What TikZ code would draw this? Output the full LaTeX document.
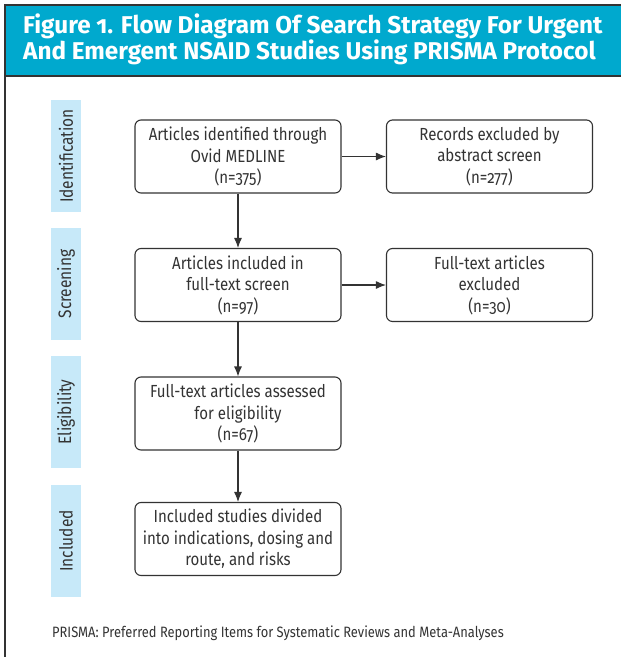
\documentclass[tikz,border=0pt]{standalone}
\usepackage{fontspec}
\setmainfont{Fira Sans}[Numbers=OldStyle,FakeStretch=0.86]
\newfontfamily\titlefont{Fira Sans}[Numbers=OldStyle]
\usetikzlibrary{arrows.meta}
\definecolor{bandblue}{RGB}{0,169,206}
\definecolor{stagefill}{RGB}{199,233,249}
\definecolor{inkgray}{RGB}{51,51,51}

\begin{document}
\begin{tikzpicture}[x=1pt,y=1pt,
        >={Latex[length=10pt,width=8pt]},
        flowbox/.style={draw=inkgray,line width=1.1pt,rounded corners=6pt,
            minimum width=206pt,minimum height=73pt,align=center,text=inkgray,
            font=\fontsize{17.5}{21.5}\selectfont},
        stage/.style={fill=stagefill,minimum width=112pt,minimum height=30pt,
            rotate=90,text=inkgray,font=\fontsize{18}{20}\selectfont},
        flow/.style={draw=inkgray,line width=1.1pt,->}]
        \useasboundingbox (0,0) rectangle (621,-657);
        % title band and frame
        \fill[bandblue] (5,-5) rectangle (621,-76);
        \draw[inkgray,line width=1.2pt] (621,-5) -- (5,-5) -- (5,-657);
        \draw[inkgray,line width=1.2pt] (5,-76) -- (621,-76);
        \node[anchor=west,align=left,inner sep=0pt,text=white,
            font=\titlefont\fontsize{24.3}{26}\selectfont\bfseries] (title) at (23,-39.5)
            {Figure 1. Flow Diagram Of Search Strategy For Urgent\\And Emergent NSAID Studies Using PRISMA Protocol};
        % stage bars
        \node[stage] (ident) at (66,-156) {Identification};
        \node[stage] (scr) at (66,-284) {Screening};
        \node[stage] (eli) at (66,-412) {Eligibility};
        \node[stage] (inc) at (66,-541) {Included};
        % boxes
        \node[flowbox] (found) at (238,-156.5) {Articles identified through\\Ovid MEDLINE\\(n=375)};
        \node[flowbox] (abstr) at (489.5,-156.5) {Records excluded by\\abstract screen\\(n=277)};
        \node[flowbox] (fulltext) at (238,-285) {Articles included in\\full-text screen\\(n=97)};
        \node[flowbox] (dropped) at (489.5,-285) {Full-text articles\\excluded\\(n=30)};
        \node[flowbox] (assessed) at (238,-413.5) {Full-text articles assessed\\for eligibility\\(n=67)};
        \node[flowbox] (studies) at (238,-539) {Included studies divided\\into indications, dosing and\\route, and risks};
        % arrows
        \draw[flow] (found) -- (abstr);
        \draw[flow] (found) -- (fulltext);
        \draw[flow] (fulltext) -- (dropped);
        \draw[flow] (fulltext) -- (assessed);
        \draw[flow] (assessed) -- (studies);
        % footnote
        \node[anchor=base west,inner sep=0pt,text=inkgray,font=\fontsize{15}{18}\selectfont] (note) at (52,-637)
            {PRISMA: Preferred Reporting Items for Systematic Reviews and Meta-Analyses};
\end{tikzpicture}
\end{document}
